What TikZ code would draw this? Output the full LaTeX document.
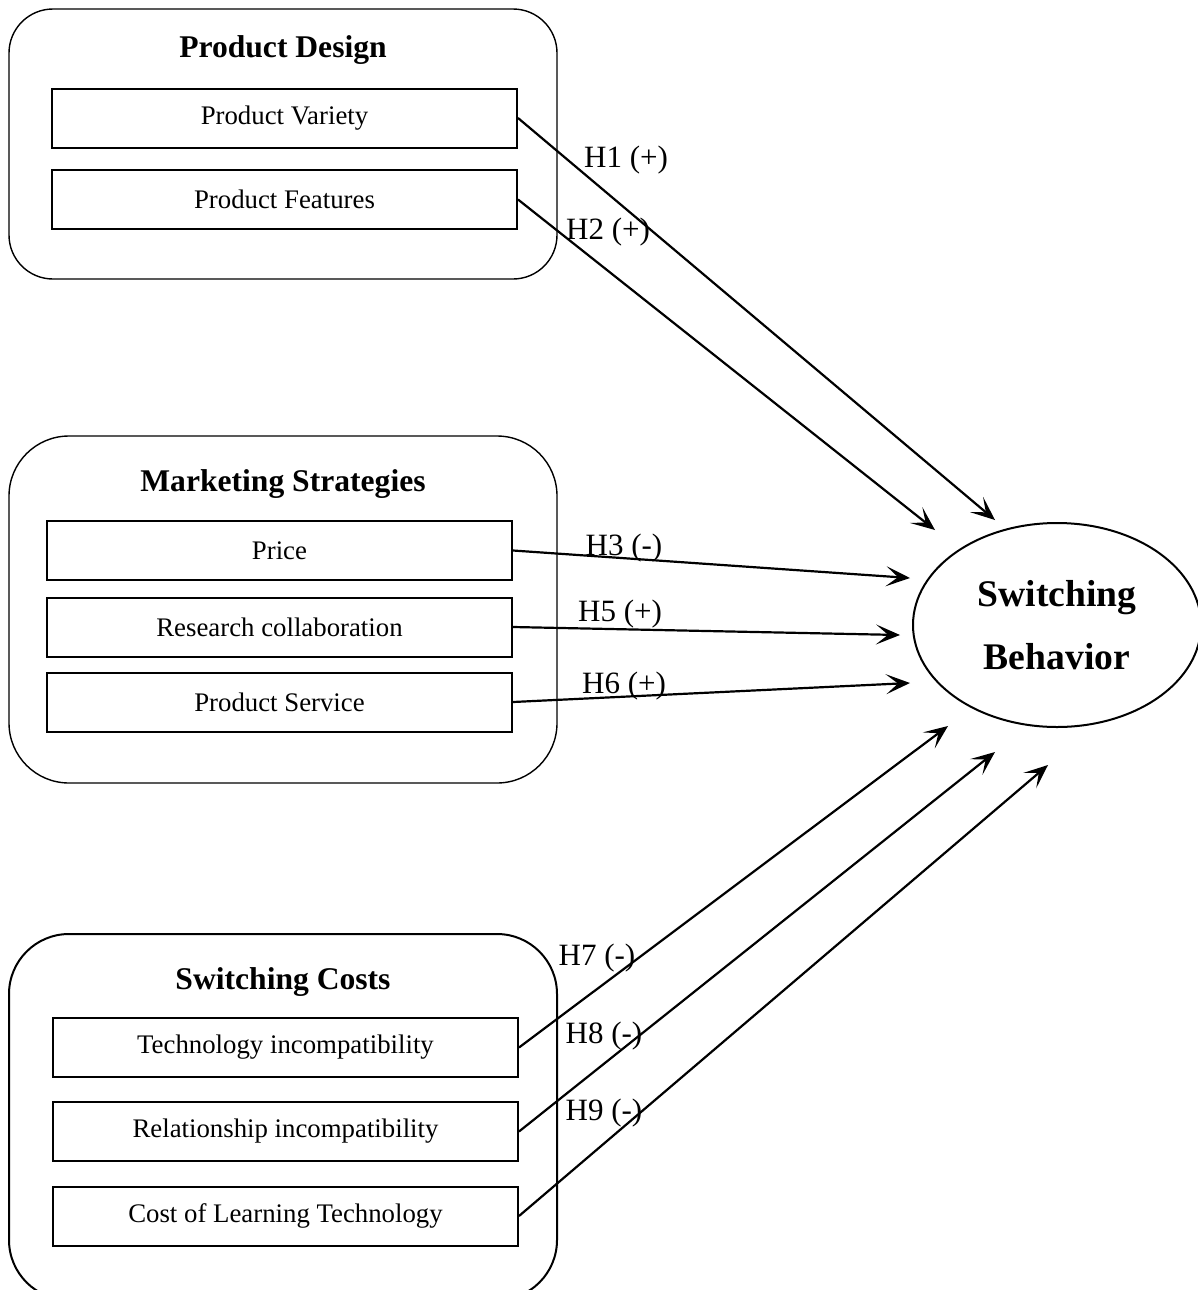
\documentclass[tikz,border=0pt]{standalone}
\usepackage{fontspec}
\setmainfont{Liberation Serif}
\usetikzlibrary{arrows.meta,shapes.geometric,positioning}

\begin{document}
\begin{tikzpicture}
    [
      x=0.5pt,y=-0.5pt,
      group/.style={draw,line width=0.7pt,minimum width=274pt,inner sep=0pt},
      grouptitle/.style={font=\fontsize{15.8}{19}\selectfont\bfseries},
      factor/.style={draw,line width=1pt,minimum width=232.5pt,minimum height=29.5pt,inner sep=0pt,font=\fontsize{13.4}{16}\selectfont},
      outcome/.style={ellipse,draw,line width=1pt,minimum width=144pt,minimum height=102pt,inner sep=0pt,align=center,font=\fontsize{18.8}{31.5}\selectfont\bfseries},
      hyp/.style={font=\fontsize{15.5}{19}\selectfont,inner sep=0pt},
      post/.style={->,>={Stealth[length=12pt,width=10pt,inset=6pt]},line width=1.1pt},
    ]

    \useasboundingbox (0,0) rectangle (1198,1290);

    % product design
    \node (design) [group,minimum height=135pt,rounded corners=22pt] at (283,144) {};
    \node (design-title) [grouptitle] at (283,50) {Product Design};
    \node (variety) [factor] at (284.5,118) {Product Variety};
    \node (features) [factor] at (284.5,199.5) {Product Features};

    % marketing strategies
    \node (marketing) [group,minimum height=173.5pt,rounded corners=30pt] at (283,609.5) {};
    \node (marketing-title) [grouptitle] at (283,484) {Marketing Strategies};
    \node (price) [factor] at (279.5,550.5) {Price};
    \node (research) [factor] at (279.5,627) {Research collaboration};
    \node (service) [factor] at (279.5,702) {Product Service};

    % switching costs
    \node (costs) [group,line width=1pt,minimum height=183pt,rounded corners=30pt] at (283,1117) {};
    \node (costs-title) [grouptitle] at (283,982) {Switching Costs};
    \node (technology) [factor] at (285.5,1047.5) {Technology incompatibility};
    \node (relationship) [factor] at (285.5,1131.5) {Relationship incompatibility};
    \node (learning) [factor] at (285.5,1216) {Cost of Learning Technology};

    \node (switching) [outcome] at (1057,625) {Switching\\Behavior};

    \coordinate (end-h1) at (995,520);
    \coordinate (end-h2) at (935,530);
    \coordinate (end-h3) at (910,578);
    \coordinate (end-h5) at (900,635);
    \coordinate (end-h6) at (910,683);
    \coordinate (end-h7) at (948,726);
    \coordinate (end-h8) at (995,752);
    \coordinate (end-h9) at (1048,765);

    \path
    (variety.east) edge [post] (end-h1)
    (features.east) edge [post] (end-h2)

    (price.east) edge [post] (end-h3)
    (research.east) edge [post] (end-h5)
    (service.east) edge [post] (end-h6)

    (technology.east) edge [post] (end-h7)
    (relationship.east) edge [post] (end-h8)
    (learning.east) edge [post] (end-h9)
    ;

    \node (h1) [hyp] at (626,160) {H1 (+)};
    \node (h2) [hyp] at (608,232) {H2 (+)};
    \node (h3) [hyp] at (624,548) {H3 (-)};
    \node (h5) [hyp] at (620,614) {H5 (+)};
    \node (h6) [hyp] at (624,686) {H6 (+)};
    \node (h7) [hyp] at (597,958) {H7 (-)};
    \node (h8) [hyp] at (604,1036) {H8 (-)};
    \node (h9) [hyp] at (604,1113) {H9 (-)};

  \end{tikzpicture}
\end{document}
